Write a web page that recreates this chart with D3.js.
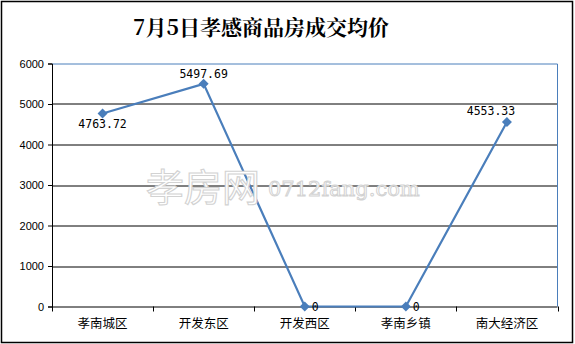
<!DOCTYPE html>
<html><head><meta charset="utf-8">
<script src="https://cdn.jsdelivr.net/npm/d3@7"></script>
<style>body{margin:0;background:#fff}svg{display:block}</style>
</head><body>
<svg id="c" width="575" height="344"></svg>
<script>
const categories = ["孝南城区","开发东区","开发西区","孝南乡镇","南大经济区"];
const values = [4763.72, 5497.69, 0, 0, 4553.33];
const valueLabels = ["4763.72","5497.69","0","0","4553.33"];
const yTicks = [0,1000,2000,3000,4000,5000,6000];
const title = "7月5日孝感商品房成交均价";

const svg = d3.select("#c");
const W=575,H=344;
const m={l:52,r:17.5,t:63.5,b:37.5};
const iw=W-m.l-m.r, ih=H-m.t-m.b;
const blue="#4a7ebb";

svg.append("rect").attr("x",1.5).attr("y",1.5).attr("width",W-4).attr("height",H-3)
  .attr("fill","#fff").attr("stroke","#000").attr("stroke-width",1.5);

svg.append("text").attr("x",261).attr("y",35).attr("text-anchor","middle")
  .attr("font-family","'Noto Serif CJK SC','Noto Sans CJK SC',serif").attr("font-weight","bold")
  .attr("font-size",21).text(title);

const g=svg.append("g").attr("transform",`translate(${m.l},${m.t})`);
const x=d3.scaleBand().domain(categories).range([0,iw]);
const y=d3.scaleLinear().domain([0,6000]).range([ih,0]);

// watermark
svg.append("text").attr("x",146).attr("y",201)
  .attr("font-family","'Noto Sans CJK SC',sans-serif").attr("font-size",38)
  .attr("fill","#fff").attr("stroke","#d2d2d2").attr("stroke-width",1.1)
  .text("孝房网");
svg.append("text").attr("x",268).attr("y",196)
  .attr("font-family","'DejaVu Serif',serif").attr("font-size",21)
  .attr("fill","#fff").attr("stroke","#d2d2d2").attr("stroke-width",1)
  .text("0712fang.com");

// gridlines
g.selectAll(".grid").data(yTicks.filter(d=>d>0&&d<6000)).join("line")
  .attr("x1",0).attr("x2",iw).attr("y1",d=>Math.round(y(d))+0.5).attr("y2",d=>Math.round(y(d))+0.5)
  .attr("stroke","#000").attr("stroke-width",1);

// plot border top/right (blue)
g.append("path").attr("d",`M0,${Math.round(y(6000))+0.5}H${iw}V${ih}`)
  .attr("fill","none").attr("stroke",blue).attr("stroke-width",1);

// y axis
const ya=g.append("g").call(d3.axisLeft(y).tickValues(yTicks).tickSize(4).tickFormat(d3.format("d")));
ya.select(".domain").attr("stroke","#000");
ya.selectAll("line").attr("stroke","#000");
ya.selectAll("text").attr("font-family","'Liberation Sans',Arial,sans-serif").attr("font-size",11).attr("fill","#000").attr("dx",-1);

// x axis
const xa=g.append("g").attr("transform",`translate(0,${ih})`);
xa.append("line").attr("x1",0).attr("x2",iw).attr("y1",0.5).attr("y2",0.5).attr("stroke","#000");
const bounds=categories.map(c=>x(c)).concat([iw]);
xa.selectAll(".tk").data(bounds).join("line")
  .attr("x1",d=>Math.round(d)+0.5).attr("x2",d=>Math.round(d)+0.5).attr("y1",0).attr("y2",5).attr("stroke","#000");
xa.selectAll(".lb").data(categories).join("text")
  .attr("x",d=>x(d)+x.bandwidth()/2).attr("y",21).attr("text-anchor","middle")
  .attr("font-family","'Noto Sans CJK SC',sans-serif").attr("font-size",12.5).attr("fill","#000").text(d=>d);

// line
const cx=(d,i)=>x(categories[i])+x.bandwidth()/2;
const line=d3.line().x((d,i)=>cx(d,i)).y(d=>y(d));
g.append("path").datum(values).attr("d",line).attr("fill","none").attr("stroke",blue).attr("stroke-width",2.2);
g.selectAll(".pt").data(values).join("path")
  .attr("d",d3.symbol(d3.symbolSquare,50))
  .attr("transform",(d,i)=>`translate(${cx(d,i)},${y(d)}) rotate(45)`)
  .attr("fill",blue);

// data labels
const offs=[[0,14],[0,-6],[7,4],[7,4],[-16,-7]];
const anch=["middle","middle","start","start","middle"];
g.selectAll(".dl").data(values).join("text")
  .attr("x",(d,i)=>cx(d,i)+offs[i][0]).attr("y",(d,i)=>y(d)+offs[i][1])
  .attr("text-anchor",(d,i)=>anch[i])
  .attr("font-family","'DejaVu Sans Mono','Liberation Mono',monospace").attr("font-size",11.5).attr("fill","#000")
  .text((d,i)=>valueLabels[i]);
</script>
</body></html>
